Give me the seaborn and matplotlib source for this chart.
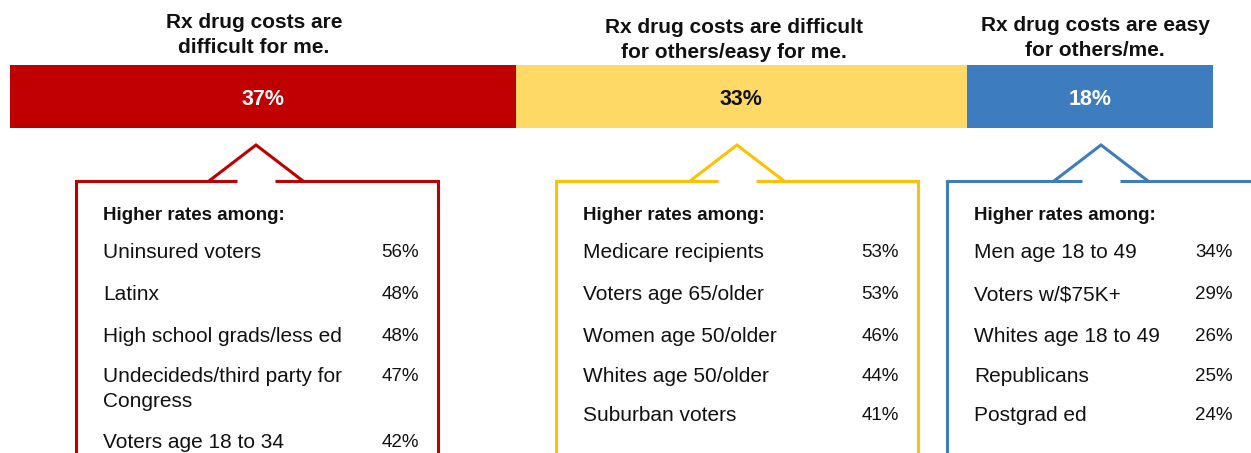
import matplotlib
matplotlib.use("Agg")
import numpy as np
import pandas as pd
import matplotlib.pyplot as plt
import seaborn as sns

# --- data -------------------------------------------------------------
segments = ["difficult for me", "difficult for others/easy for me", "easy for others/me"]
shares = [37, 33, 18]
titles = ["Rx drug costs are\ndifficult for me.",
          "Rx drug costs are difficult\nfor others/easy for me.",
          "Rx drug costs are easy\nfor others/me."]

groups_me = ["Uninsured voters", "Latinx", "High school grads/less ed",
             "Undecideds/third party for\nCongress", "Voters age 18 to 34"]
rates_me = [56, 48, 48, 47, 42]
groups_others = ["Medicare recipients", "Voters age 65/older", "Women age 50/older",
                 "Whites age 50/older", "Suburban voters"]
rates_others = [53, 53, 46, 44, 41]
groups_easy = ["Men age 18 to 49", "Voters w/$75K+", "Whites age 18 to 49",
               "Republicans", "Postgrad ed"]
rates_easy = [34, 29, 26, 25, 24]

# --- style / layout ---------------------------------------------------
bar_colors = ["#C00000", "#FFD966", "#3D7CBE"]
label_colors = ["white", "#111111", "white"]
box_colors = ["#C00000", "#FFC000", "#3D7CBE"]
W, H = 1251, 453

sns.set_theme(style="white")
plt.rcParams['font.family'] = ['Liberation Sans', 'DejaVu Sans']

fig = plt.figure(figsize=(W / 100, H / 100), dpi=100)

# stacked bar: draw cumulative totals back to front
bar_ax = fig.add_axes([10 / W, (H - 128) / H, 1203 / W, 63 / H])
ends = np.cumsum(shares)
starts = ends - np.array(shares)
for i in reversed(range(len(shares))):
    sns.barplot(x=[ends[i]], y=["all"], orient="h", color=bar_colors[i],
                saturation=1, width=1, linewidth=0, errorbar=None, ax=bar_ax)
bar_ax.set_xlim(0, ends[-1])
bar_ax.set_ylim(0.5, -0.5)
bar_ax.axis("off")
for s, v, c in zip(starts, shares, label_colors):
    bar_ax.text(s + v / 2, 0.05, f"{v}%", ha="center", va="center",
                fontsize=15.5, fontweight="bold", color=c)

# overlay in pixel coords for titles and callouts
ann = fig.add_axes([0, 0, 1, 1], zorder=5)
ann.set_xlim(0, W)
ann.set_ylim(H, 0)
ann.axis("off")
ann.patch.set_alpha(0)

title_x = [254, 734, 1095]
title_y = [28, 33, 31]
for t, x, y in zip(titles, title_x, title_y):
    for k, line in enumerate(t.split("\n")):
        ann.text(x, y + 25 * k, line, ha="center", va="baseline",
                 fontsize=15, fontweight="bold", color="#111111")

box_left = [76, 556, 947]
box_w = 362
apex_x = [256, 737, 1101]
pct_right = [419, 899, 1233]
rows = [[258, 300, 342, 382, 448], [258, 300, 342, 382, 421], [258, 300, 342, 382, 421]]
groups = [groups_me, groups_others, groups_easy]
rates = [rates_me, rates_others, rates_easy]
top, apex_y = 181, 145

for b in range(3):
    c = box_colors[b]
    L, R, ax_ = box_left[b], box_left[b] + box_w, apex_x[b]
    kw = dict(color=c, lw=2.2, solid_joinstyle="miter", solid_capstyle="butt")
    ann.plot([L, L, ax_ - 19], [H + 20, top, top], **kw)
    ann.plot([ax_ + 19, R, R], [top, top, H + 20], **kw)
    ann.plot([ax_ - 47, ax_, ax_ + 47], [top, apex_y, top], **kw)

    ann.text(L + 27, 220, "Higher rates among:", ha="left", va="baseline",
             fontsize=13.5, fontweight="bold", color="#111111")
    for g, r, y in zip(groups[b], rates[b], rows[b]):
        for k, line in enumerate(g.split("\n")):
            ann.text(L + 27, y + 25 * k, line, ha="left", va="baseline",
                     fontsize=15, color="#111111")
        ann.text(pct_right[b], y - 1, f"{r}%", ha="right", va="baseline",
                 fontsize=13.5, color="#111111")

fig.savefig("out.png", dpi=100)
